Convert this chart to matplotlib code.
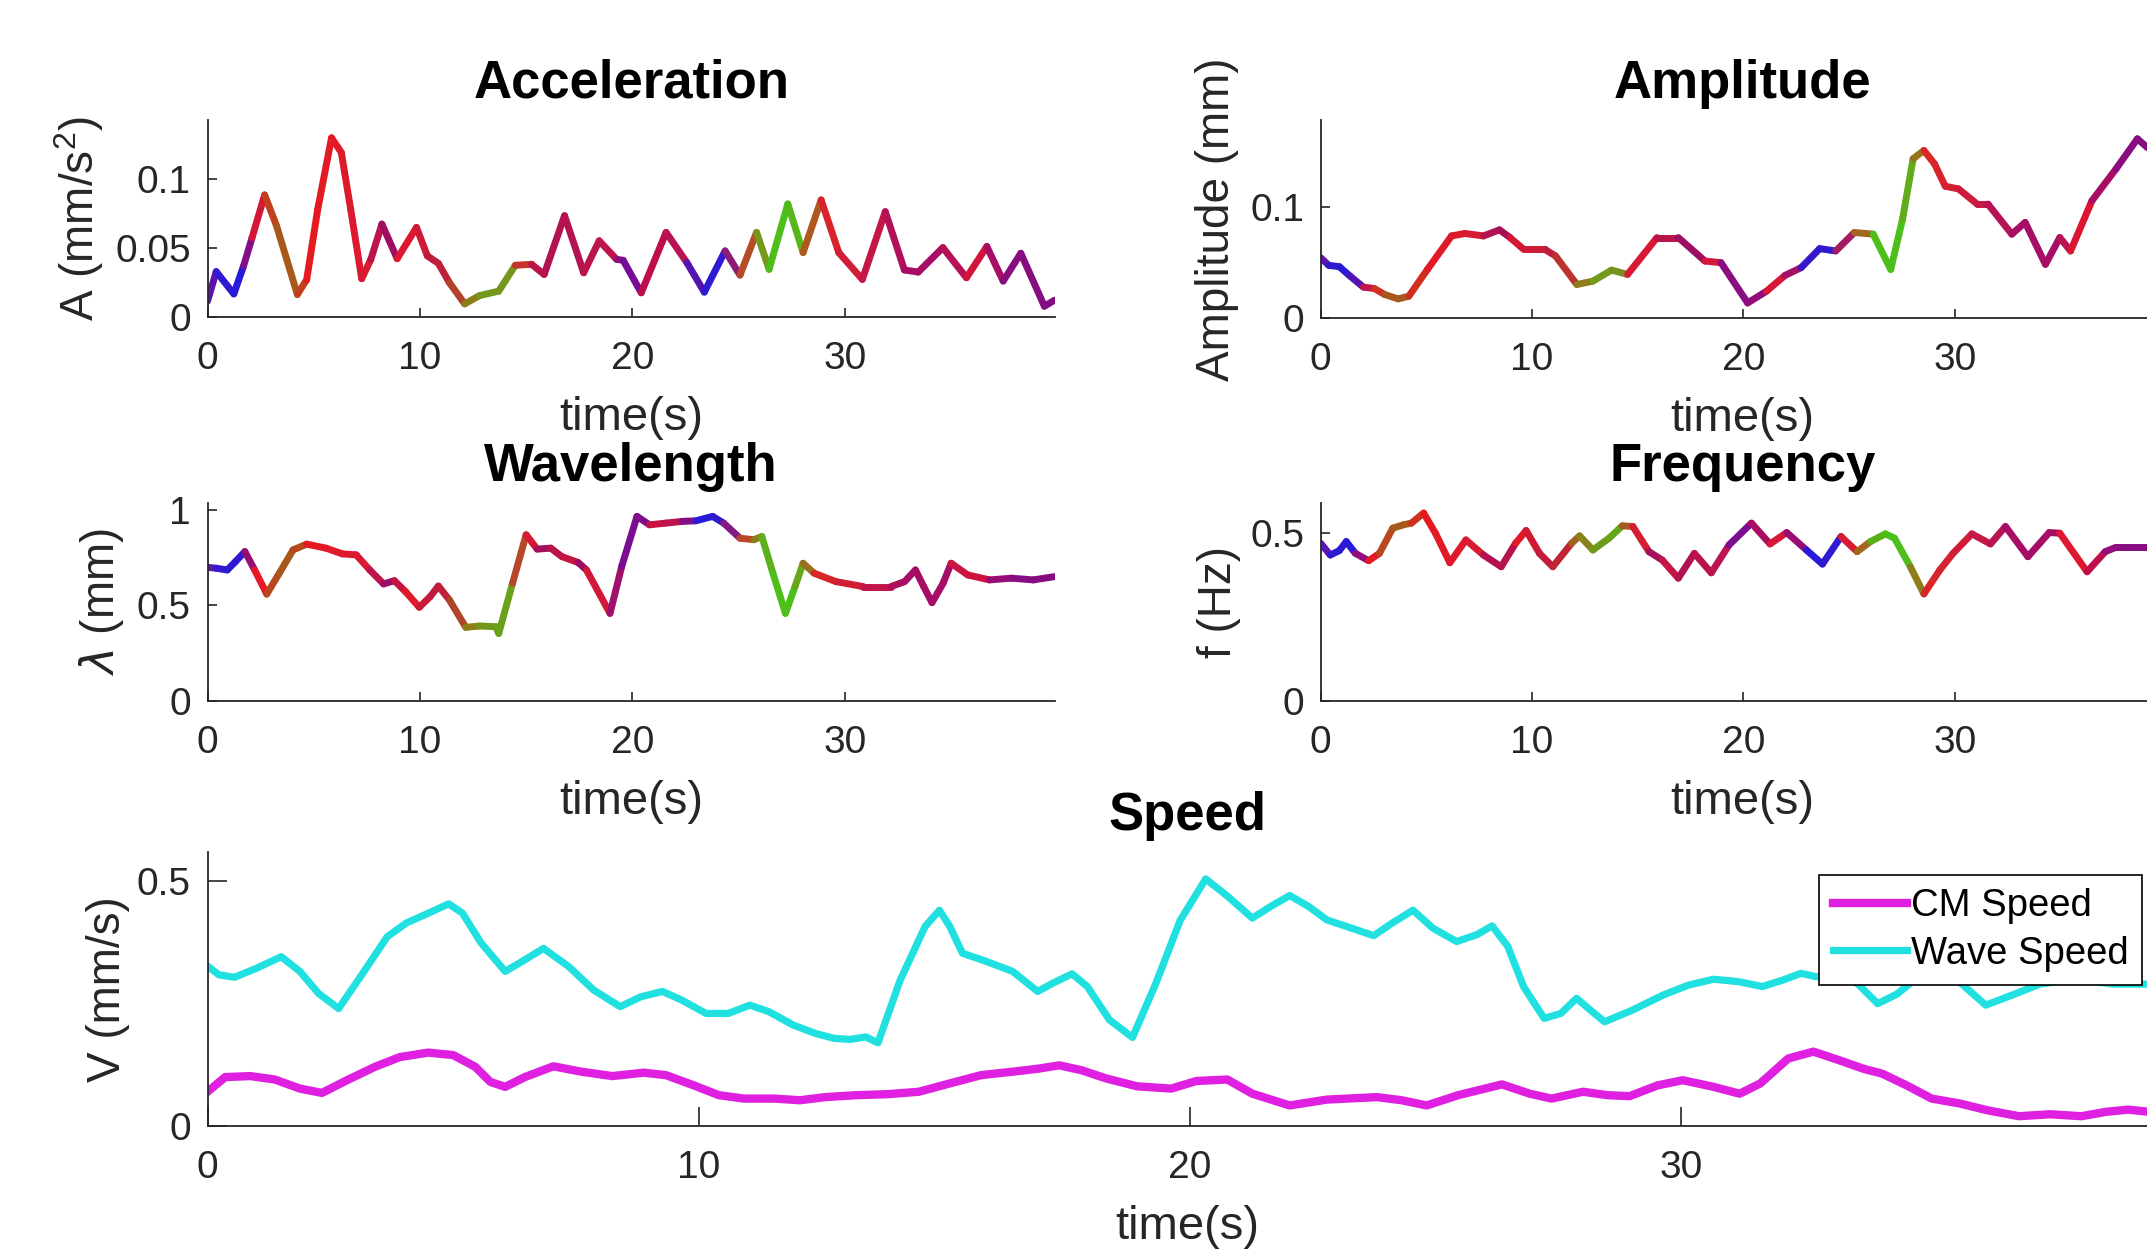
import numpy as np
import matplotlib.pyplot as plt
from matplotlib.collections import LineCollection

plt.rcParams['font.family'] = ['Liberation Sans', 'DejaVu Sans']
plt.rcParams['mathtext.fontset'] = 'custom'
plt.rcParams['mathtext.rm'] = 'Liberation Sans'

# ---- values ----
acc_t = [0, 0.41, 1.24, 1.7, 2.1, 2.69, 3.25, 4.23, 4.67, 5.19, 5.84, 6.3, 6.74, 7.26, 7.69,
         8.21, 8.93, 9.84, 10.35, 10.87, 11.39, 12.11, 12.81, 13.71, 14.49, 15.26, 15.85,
         16.81, 17.71, 18.44, 19.26, 19.57, 20.42, 21.59, 22.57, 23.39, 24.37, 25.07, 25.85,
         26.44, 27.32, 28.04, 28.89, 29.72, 30.83, 31.91, 32.81, 33.46, 34.62, 35.73, 36.69,
         37.46, 38.29, 39.4, 39.87]
acc_v = [0.0114, 0.0328, 0.0167, 0.037, 0.0575, 0.0883, 0.066, 0.0163, 0.027, 0.078, 0.1296,
         0.119, 0.078, 0.0277, 0.0417, 0.0672, 0.0422, 0.0648, 0.0442, 0.0388, 0.0248, 0.0095,
         0.0155, 0.0187, 0.0374, 0.0381, 0.0308, 0.0733, 0.032, 0.0551, 0.0417, 0.041, 0.0175,
         0.0612, 0.0393, 0.018, 0.0478, 0.0303, 0.0612, 0.0345, 0.0818, 0.0466, 0.0847, 0.0466,
         0.0272, 0.0762, 0.034, 0.0325, 0.0502, 0.0284, 0.051, 0.026, 0.0461, 0.0078, 0.0121]

amp_t = [0, 0.38, 0.88, 1.39, 2.02, 2.53, 3.03, 3.66, 4.17, 5.05, 6.19, 6.82, 7.7, 8.46, 8.96,
         9.6, 10.6, 11.11, 12.12, 12.88, 13.76, 14.52, 15.91, 16.92, 18.18, 18.94, 20.2, 21.09,
         21.97, 22.73, 23.61, 24.37, 25.25, 26.14, 26.97, 27.53, 28.03, 28.54, 29.04, 29.55,
         30.18, 31.06, 31.57, 32.7, 33.33, 34.29, 34.97, 35.48, 36.49, 37.63, 38.64, 39.09, 39.9]
amp_v = [0.0545, 0.0476, 0.0464, 0.0379, 0.0279, 0.0267, 0.0212, 0.0173, 0.0197, 0.0439, 0.0742,
         0.0764, 0.0742, 0.0797, 0.0727, 0.0621, 0.0621, 0.0561, 0.0303, 0.0333, 0.0433, 0.0394,
         0.0727, 0.0727, 0.0515, 0.05, 0.0136, 0.0242, 0.0385, 0.0455, 0.0627, 0.0606, 0.0773,
         0.0758, 0.0439, 0.0894, 0.144, 0.1515, 0.1394, 0.1191, 0.1167, 0.103, 0.103, 0.0758,
         0.0864, 0.0485, 0.0727, 0.0606, 0.106, 0.1348, 0.162, 0.1545, 0.15]

wav_t = [0, 0.41, 0.93, 1.32, 1.76, 2.22, 2.79, 3.38, 4.03, 4.67, 5.58, 6.35, 7.0, 7.64, 8.29,
         8.8, 9.32, 9.97, 10.48, 10.87, 11.39, 12.16, 12.81, 13.58, 13.71, 14.36, 15.0, 15.52,
         16.16, 16.68, 17.45, 17.84, 18.95, 19.5, 20.22, 20.81, 21.59, 22.36, 23.0, 23.78, 24.3,
         25.07, 25.72, 26.1, 26.62, 27.21, 27.66, 28.04, 28.56, 29.59, 30.88, 32.17, 32.82,
         33.33, 33.72, 34.11, 34.63, 35.01, 35.79, 36.82, 37.85, 38.88, 39.87]
wav_v = [0.699, 0.694, 0.685, 0.729, 0.781, 0.685, 0.559, 0.668, 0.79, 0.82, 0.799, 0.769, 0.764,
         0.685, 0.612, 0.629, 0.572, 0.49, 0.545, 0.601, 0.528, 0.385, 0.392, 0.388, 0.353, 0.615,
         0.869, 0.794, 0.799, 0.755, 0.724, 0.685, 0.458, 0.703, 0.965, 0.921, 0.93, 0.939, 0.942,
         0.965, 0.93, 0.851, 0.843, 0.86, 0.668, 0.458, 0.598, 0.72, 0.668, 0.624, 0.598, 0.598,
         0.624, 0.685, 0.598, 0.514, 0.615, 0.72, 0.659, 0.633, 0.642, 0.633, 0.65]

frq_t = [0, 0.45, 0.88, 1.21, 1.64, 2.27, 2.78, 3.41, 3.91, 4.29, 4.87, 5.43, 6.11, 6.87, 7.7,
         8.54, 9.22, 9.72, 10.35, 10.98, 11.87, 12.25, 12.88, 13.64, 14.27, 14.77, 15.53, 16.16,
         16.92, 17.68, 18.48, 19.32, 20.38, 21.26, 22.05, 22.98, 23.74, 24.62, 25.38, 26.01,
         26.72, 27.15, 27.9, 28.54, 29.29, 29.92, 30.81, 31.69, 32.4, 33.46, 34.47, 34.97, 36.26,
         37.12, 37.63, 39.09, 39.9]
frq_v = [0.47, 0.435, 0.448, 0.475, 0.44, 0.418, 0.44, 0.515, 0.525, 0.53, 0.56, 0.5, 0.412, 0.48,
         0.435, 0.4, 0.47, 0.508, 0.44, 0.4, 0.47, 0.492, 0.45, 0.485, 0.522, 0.52, 0.445, 0.42,
         0.366, 0.44, 0.382, 0.465, 0.53, 0.468, 0.502, 0.45, 0.408, 0.49, 0.445, 0.475, 0.498,
         0.485, 0.4, 0.319, 0.39, 0.44, 0.498, 0.468, 0.52, 0.43, 0.502, 0.5, 0.385, 0.445, 0.458,
         0.458, 0.458]

cm_t = [0, 0.36, 0.87, 1.37, 1.88, 2.33, 2.84, 3.41, 3.92, 4.49, 5.0, 5.45, 5.76, 6.06, 6.46,
        7.04, 7.61, 8.24, 8.88, 9.33, 9.9, 10.41, 10.92, 11.55, 12.06, 12.57, 13.21, 13.84,
        14.48, 15.11, 15.75, 16.39, 16.9, 17.34, 17.79, 18.3, 18.93, 19.62, 20.13, 20.76, 21.27,
        22.03, 22.79, 23.81, 24.31, 24.82, 25.46, 26.35, 26.92, 27.36, 28.0, 28.5, 28.95, 29.52,
        30.03, 30.66, 31.19, 31.61, 32.18, 32.69, 33.2, 33.71, 34.09, 34.59, 35.1, 35.67, 36.24,
        36.88, 37.51, 38.15, 38.65, 39.1, 39.52, 39.9]
cm_v = [0.07, 0.1, 0.102, 0.095, 0.0765, 0.0676, 0.0936, 0.121, 0.141, 0.15, 0.145, 0.121, 0.09,
        0.08, 0.1, 0.122, 0.111, 0.102, 0.109, 0.104, 0.083, 0.063, 0.056, 0.056, 0.0526, 0.059,
        0.063, 0.065, 0.07, 0.087, 0.104, 0.111, 0.117, 0.124, 0.114, 0.097, 0.081, 0.0765, 0.092,
        0.095, 0.066, 0.042, 0.054, 0.059, 0.0526, 0.042, 0.063, 0.085, 0.066, 0.056, 0.07, 0.063,
        0.061, 0.083, 0.0936, 0.08, 0.066, 0.087, 0.138, 0.152, 0.135, 0.117, 0.107, 0.083, 0.056,
        0.046, 0.032, 0.02, 0.024, 0.02, 0.029, 0.0335, 0.029, 0.03]

wave_t = [0, 0.23, 0.55, 0.99, 1.5, 1.88, 2.26, 2.67, 3.16, 3.66, 4.05, 4.43, 4.91, 5.19, 5.57,
          6.06, 6.4, 6.84, 7.35, 7.86, 8.4, 8.82, 9.26, 9.64, 10.15, 10.6, 11.04, 11.42, 11.93,
          12.38, 12.76, 13.08, 13.4, 13.65, 14.1, 14.61, 14.9, 15.11, 15.37, 15.81, 16.39, 16.9,
          17.21, 17.6, 17.91, 18.36, 18.83, 19.3, 19.8, 20.32, 20.76, 21.27, 21.65, 22.03, 22.41,
          22.79, 23.3, 23.74, 24.12, 24.54, 24.95, 25.43, 25.84, 26.15, 26.47, 26.79, 27.21,
          27.55, 27.87, 28.15, 28.44, 29.01, 29.64, 30.15, 30.66, 31.17, 31.65, 32.06, 32.44,
          32.75, 33.2, 33.6, 34.0, 34.4, 35.0, 35.6, 36.2, 36.8, 37.3, 38.0, 38.8, 39.5, 39.9]
wave_v = [0.327, 0.309, 0.304, 0.322, 0.346, 0.316, 0.271, 0.24, 0.312, 0.387, 0.415, 0.432, 0.454,
          0.435, 0.374, 0.316, 0.336, 0.363, 0.326, 0.278, 0.244, 0.264, 0.275, 0.258, 0.23, 0.23,
          0.247, 0.234, 0.206, 0.189, 0.179, 0.177, 0.182, 0.17, 0.298, 0.408, 0.441, 0.408, 0.353,
          0.338, 0.316, 0.275, 0.292, 0.311, 0.285, 0.217, 0.181, 0.29, 0.42, 0.505, 0.47, 0.425,
          0.449, 0.471, 0.449, 0.421, 0.404, 0.389, 0.415, 0.441, 0.404, 0.377, 0.391, 0.409,
          0.367, 0.285, 0.22, 0.23, 0.261, 0.237, 0.213, 0.237, 0.268, 0.288, 0.3, 0.295, 0.285,
          0.298, 0.312, 0.305, 0.31, 0.29, 0.25, 0.27, 0.32, 0.3, 0.247, 0.27, 0.29, 0.3, 0.29,
          0.29, 0.29]

# colour key shared by the four coloured traces (time -> rgb)
key_t = [0.0, 0.4, 1.5, 2.0, 2.5, 3.3, 4.2, 4.8, 7.5, 8.5, 9.5, 10.5, 11.5, 12.2, 13.2, 14.0,
         14.6, 15.2, 16.0, 16.8, 17.6, 18.5, 19.5, 20.3, 21.0, 21.6, 22.5, 23.3, 24.4, 25.0,
         25.8, 26.5, 27.6, 28.2, 28.8, 31.0, 33.0, 35.0, 35.7, 36.7, 37.5, 40.0]
key_r = [0.55, 0.2, 0.15, 0.6, 0.9, 0.65, 0.65, 0.9, 0.85, 0.6, 0.9, 0.75, 0.75, 0.6, 0.45, 0.4,
         0.7, 0.85, 0.6, 0.85, 0.6, 0.85, 0.55, 0.4, 0.75, 0.85, 0.6, 0.15, 0.2, 0.85, 0.6, 0.3,
         0.3, 0.55, 0.85, 0.8, 0.65, 0.65, 0.9, 0.75, 0.55, 0.5]
key_g = [0.05, 0.1, 0.1, 0.05, 0.1, 0.35, 0.35, 0.1, 0.1, 0.05, 0.1, 0.1, 0.15, 0.45, 0.6, 0.65,
         0.3, 0.1, 0.05, 0.1, 0.05, 0.1, 0.05, 0.05, 0.05, 0.1, 0.05, 0.1, 0.1, 0.1, 0.45, 0.75,
         0.75, 0.5, 0.15, 0.1, 0.05, 0.05, 0.1, 0.05, 0.05, 0.05]
key_b = [0.55, 0.8, 0.85, 0.45, 0.15, 0.1, 0.1, 0.12, 0.2, 0.4, 0.15, 0.25, 0.2, 0.1, 0.1, 0.1,
         0.15, 0.2, 0.4, 0.2, 0.4, 0.2, 0.5, 0.65, 0.3, 0.2, 0.45, 0.85, 0.8, 0.2, 0.1, 0.1, 0.1,
         0.1, 0.15, 0.25, 0.4, 0.4, 0.15, 0.3, 0.5, 0.5]

W, H = 2147, 1256
TXT = '#262626'


def place(l, r, top, bot):
    return [l / W, 1 - bot / H, (r - l) / W, (bot - top) / H]


def coloured(ax, t, v):
    t = np.asarray(t, float)
    v = np.asarray(v, float)
    pts = np.column_stack([t, v]).reshape(-1, 1, 2)
    segs = np.concatenate([pts[:-1], pts[1:]], axis=1)
    mid = 0.5 * (t[:-1] + t[1:])
    cols = np.column_stack([np.interp(mid, key_t, key_r),
                            np.interp(mid, key_t, key_g),
                            np.interp(mid, key_t, key_b)])
    lc = LineCollection(segs, colors=cols, linewidths=5.0, capstyle='round', joinstyle='round')
    ax.add_collection(lc)


def style(ax, ymax, yticks, ylabels, ticklen):
    ax.set_xlim(0, 39.9)
    ax.set_ylim(0, ymax)
    ax.set_xticks([0, 10, 20, 30])
    ax.set_yticks(yticks)
    ax.set_yticklabels(ylabels)
    for s in ('top', 'right'):
        ax.spines[s].set_visible(False)
    for s in ('left', 'bottom'):
        ax.spines[s].set_linewidth(1.3)
        ax.spines[s].set_color(TXT)
    ax.tick_params(direction='in', length=ticklen, width=1.2, colors=TXT, labelsize=28)
    ax.tick_params(axis='x', pad=17)
    ax.tick_params(axis='y', pad=12)


fig = plt.figure(figsize=(W / 100, H / 100), dpi=100)

panels = [
    ('Acceleration', place(207.5, 1055, 120, 317), acc_t, acc_v, 0.1425,
     [0, 0.05, 0.1], ['0', '0.05', '0.1'], r'A (mm/s$^2$)', -0.12),
    ('Amplitude', place(1320.7, 2164, 120, 318), amp_t, amp_v, 0.179,
     [0, 0.1], ['0', '0.1'], 'Amplitude (mm)', -0.097),
    ('Wavelength', place(207.5, 1055, 503, 701), wav_t, wav_v, 1.035,
     [0, 0.5, 1], ['0', '0.5', '1'], r'$\lambda$ (mm)', -0.096),
    ('Frequency', place(1320.7, 2164, 503, 701), frq_t, frq_v, 0.59,
     [0, 0.5], ['0', '0.5'], 'f (Hz)', -0.094),
]

for title, pos, t, v, ymax, yt, yl, ylab, ylx in panels:
    ax = fig.add_axes(pos)
    coloured(ax, t, v)
    style(ax, ymax, yt, yl, 6.5)
    ax.set_title(title, fontsize=38, fontweight='bold', pad=16)
    ax.set_xlabel('time(s)', fontsize=34, color=TXT)
    ax.set_ylabel(ylab, fontsize=33, color=TXT)
    ax.xaxis.set_label_coords(0.5, -0.40)
    ax.yaxis.set_label_coords(ylx, 0.5)

# speed panel
ax = fig.add_axes(place(207.5, 2167.5, 852, 1126))
ax.plot(cm_t, cm_v, color='#e020e0', lw=6, label='CM Speed')
ax.plot(wave_t, wave_v, color='#20e0e0', lw=5.2, label='Wave Speed')
style(ax, 0.56, [0, 0.5], ['0', '0.5'], 13.5)
ax.set_title('Speed', fontsize=38, fontweight='bold', pad=16)
ax.set_xlabel('time(s)', fontsize=34, color=TXT)
ax.set_ylabel('V (mm/s)', fontsize=33, color=TXT)
ax.xaxis.set_label_coords(0.5, -0.29)
ax.yaxis.set_label_coords(-0.0395, 0.5)
leg = ax.legend(loc='upper right', bbox_to_anchor=(2142 / W, 1 - 875 / H),
                bbox_transform=fig.transFigure, fontsize=27.5, frameon=True, fancybox=False,
                framealpha=1, edgecolor='black', handlelength=1.95, handletextpad=0.1,
                labelspacing=0.3, borderpad=0.35, borderaxespad=0)
leg.get_frame().set_linewidth(1.2)

fig.savefig('out.png', dpi=100, facecolor='white')
